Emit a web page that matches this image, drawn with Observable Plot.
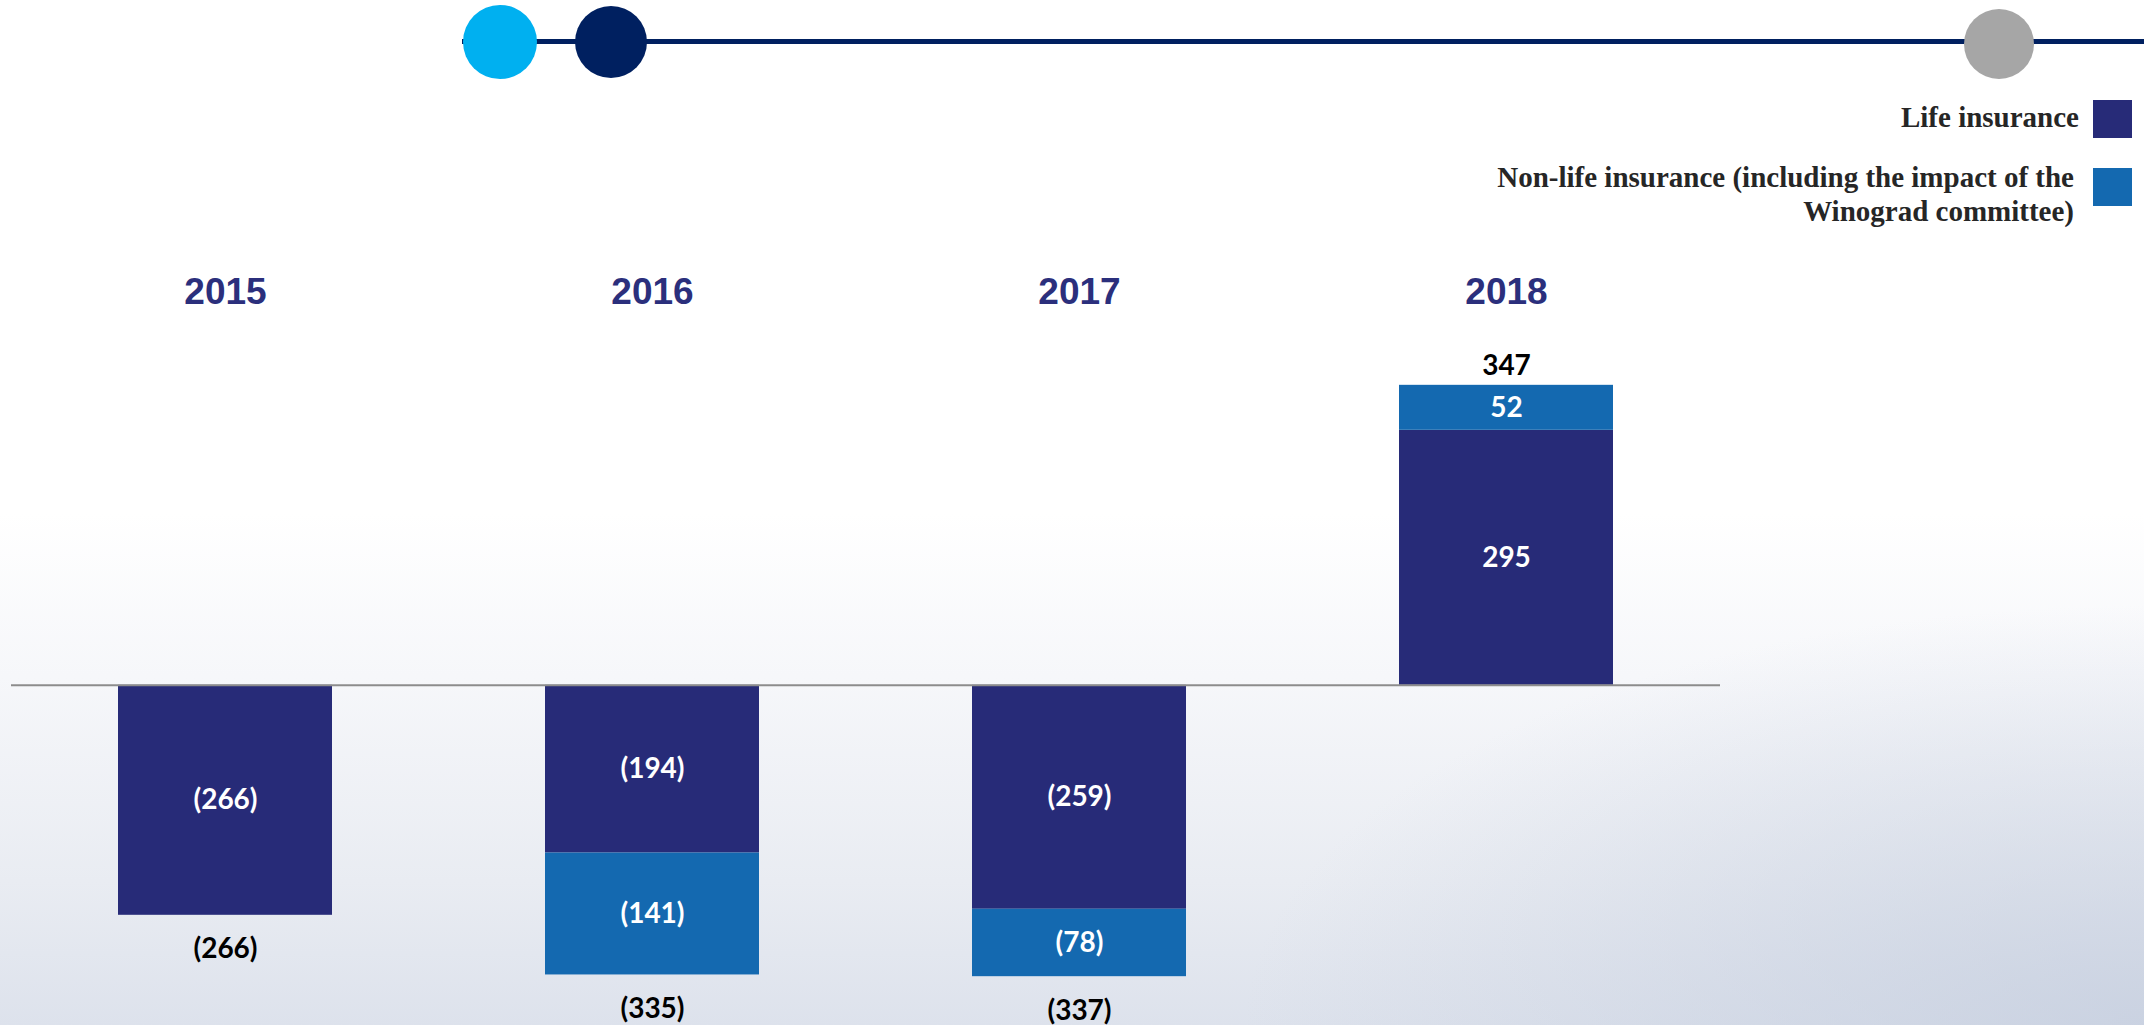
<!DOCTYPE html>
<html><head><meta charset="utf-8">
<script src="https://cdn.jsdelivr.net/npm/d3@7"></script>
<script src="https://cdn.jsdelivr.net/npm/@observablehq/plot@0.6"></script>
<style>
html,body{margin:0;padding:0;}
body{width:2144px;height:1025px;overflow:hidden;position:relative;
  background:
    radial-gradient(ellipse 900px 420px at 100% 100%, rgba(196,205,222,0.75), rgba(196,205,222,0) 100%),
    linear-gradient(to bottom,#ffffff 0%,#ffffff 50%,#f6f7fa 66%,#e9ecf2 86%,#dde2ec 100%);}
#chart{position:absolute;left:0;top:0;}
.deco-line{position:absolute;left:462px;top:39px;width:1682px;height:5px;background:#002060;}
.dot{position:absolute;border-radius:50%;}
.leg-text{position:absolute;font-family:"Liberation Serif","Times New Roman",serif;font-weight:bold;font-size:29px;line-height:34px;color:#262626;text-align:right;white-space:nowrap;}
.leg-sw{position:absolute;width:39px;height:38px;}
</style></head>
<body>
<div class="deco-line"></div>
<div class="dot" style="left:463px;top:5px;width:74px;height:74px;background:#00B0F0"></div>
<div class="dot" style="left:575px;top:6px;width:72px;height:72px;background:#002060"></div>
<div class="dot" style="left:1964px;top:9px;width:70px;height:70px;background:#A6A6A6"></div>
<div id="legend"></div>
<div id="chart"></div>
<script>
const years = ["2015", "2016", "2017", "2018"];
const lifeValues = [-266, -194, -259, 295];
const nonLifeValues = [null, -141, -78, 52];
const totals = [-266, -335, -337, 347];
const seriesNames = ["Life insurance", "Non-life insurance (including the impact of the Winograd committee)"];
const seriesColors = ["#272B78", "#1469B0"];

const fmt = v => v < 0 ? `(${Math.abs(v)})` : `${v}`;

const rows = [];
years.forEach((y, i) => {
  rows.push({year: y, series: seriesNames[0], value: lifeValues[i]});
  if (nonLifeValues[i] != null) rows.push({year: y, series: seriesNames[1], value: nonLifeValues[i]});
});
const totalRows = years.map((y, i) => ({year: y, total: totals[i]}));

// Legend (HTML)
const legend = document.getElementById("legend");
legend.innerHTML = `
  <div class="leg-text" style="right:65px;top:100px;">${seriesNames[0]}</div>
  <div class="leg-sw" style="left:2093px;top:100px;background:${seriesColors[0]}"></div>
  <div class="leg-text" style="right:70px;top:160px;">Non-life insurance (including the impact of the<br>Winograd committee)</div>
  <div class="leg-sw" style="left:2093px;top:168px;background:${seriesColors[1]}"></div>`;

const labelFont = "Lato, 'Open Sans', sans-serif";
const chart = Plot.plot({
  width: 2144,
  height: 1025,
  marginTop: 339,
  marginBottom: 3,
  marginLeft: 11,
  marginRight: 424,
  style: {background: "transparent", overflow: "visible"},
  x: {type: "band", domain: years, paddingInner: 0.5, paddingOuter: 0.251, label: null},
  y: {domain: [-390, 400], axis: null},
  color: {domain: seriesNames, range: seriesColors},
  marks: [
    Plot.axisX({anchor: "top", tickSize: 0, tickPadding: 36, fontSize: 37, fontWeight: "bold",
      fontFamily: "'Liberation Sans', Arial, sans-serif", color: "#2B2F7C", label: null}),
    Plot.barY(rows, {x: "year", y: "value", fill: "series", z: "series"}),
    Plot.ruleY([0], {stroke: "#8C8C8C", strokeWidth: 2}),
    Plot.text(rows, Plot.stackY({x: "year", y: "value", z: "series", text: d => fmt(d.value),
      fill: "white", fontSize: 28, fontWeight: "bold", fontFamily: labelFont})),
    Plot.text(totalRows.filter(d => d.total < 0), {x: "year", y: "total", text: d => fmt(d.total),
      dy: 34, fill: "#000", fontSize: 28, fontWeight: "bold", fontFamily: labelFont}),
    Plot.text(totalRows.filter(d => d.total > 0), {x: "year", y: "total", text: d => fmt(d.total),
      dy: -19, fill: "#000", fontSize: 28, fontWeight: "bold", fontFamily: labelFont})
  ]
});
document.getElementById("chart").appendChild(chart);
</script>
</body></html>
